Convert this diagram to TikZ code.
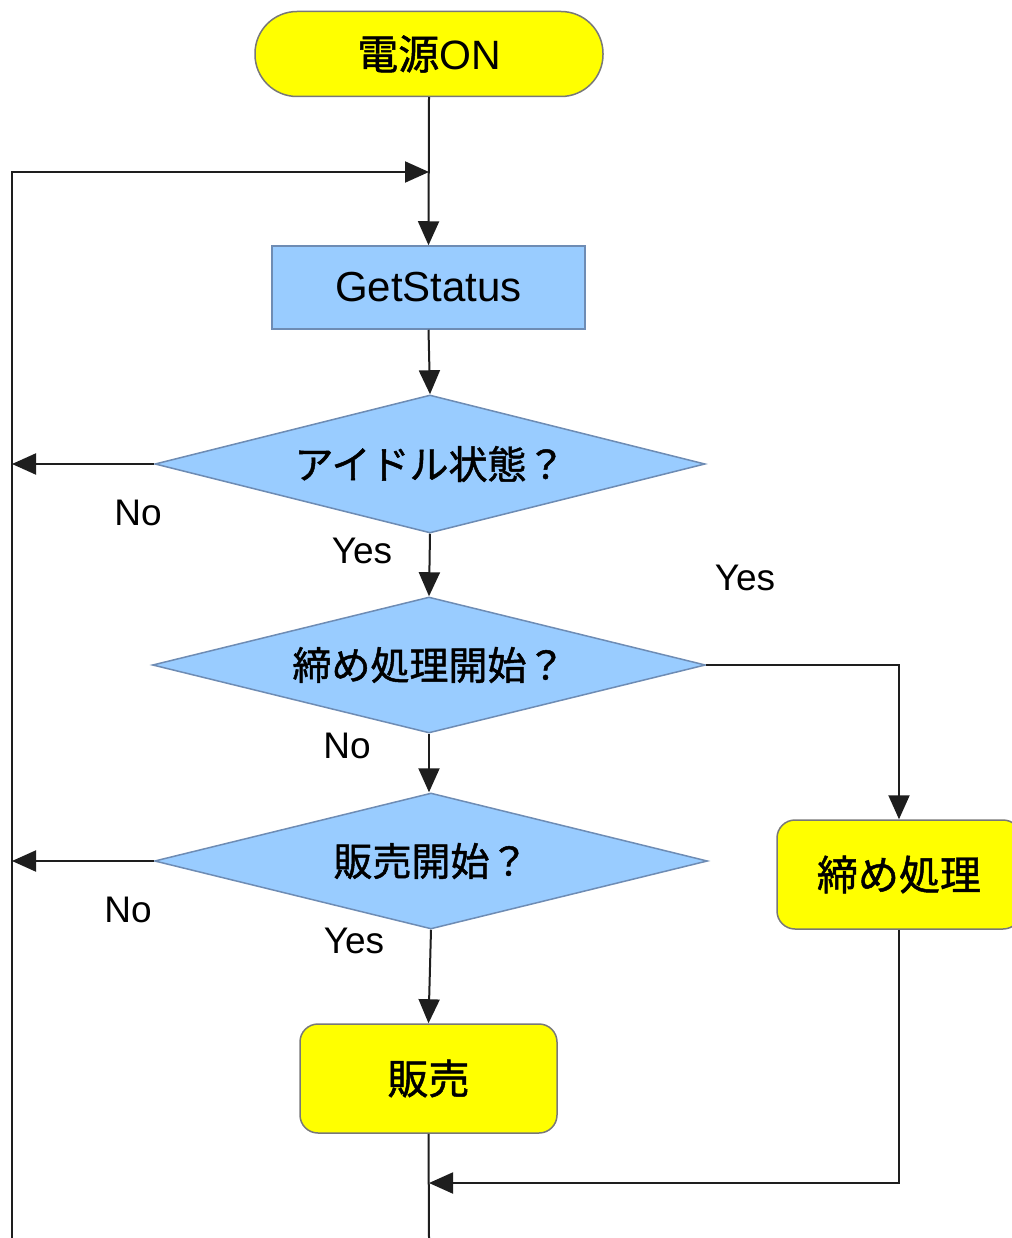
\documentclass[tikz,border=0pt]{standalone}
\usepackage{fontspec}
\setmainfont{Liberation Sans}
\newfontfamily\jp[FakeBold=1.2]{Noto Sans CJK JP}
\usetikzlibrary{shapes.geometric,arrows.meta}
\definecolor{termyellow}{RGB}{255,255,0}
\definecolor{procblue}{RGB}{153,204,255}
\definecolor{edgegray}{RGB}{120,120,120}
\definecolor{blueedge}{RGB}{110,140,180}
\definecolor{linecol}{RGB}{30,30,30}
\begin{document}
\begin{tikzpicture}[x=1pt,y=-1pt,
  yellowbox/.style={draw=edgegray,line width=1.5pt,fill=termyellow,inner sep=0pt,
    font=\fontsize{41}{48}\selectfont\jp},
  bluebox/.style={draw=blueedge,line width=1.5pt,fill=procblue,inner sep=0pt,
    font=\fontsize{42}{50}\selectfont},
  decision/.style={diamond,aspect=4,draw=blueedge,line width=1.5pt,fill=procblue,inner sep=0pt,
    font=\fontsize{39}{46}\selectfont\jp},
  conn/.style={draw=linecol,line width=2pt,-{Triangle[length=24pt,width=21pt]}},
  plain/.style={draw=linecol,line width=2pt},
  lbl/.style={font=\fontsize{37}{44}\selectfont,inner sep=0pt}]
\useasboundingbox (0,0) rectangle (1011,1238);
\fill[white] (0,0) rectangle (1011,1238);

% nodes
\node[yellowbox,rounded corners=42pt,minimum width=348pt,minimum height=85pt] (start) at (429,54) {電源\fontspec{Liberation Sans}ON};
\node[bluebox,minimum width=313pt,minimum height=83pt] (gs) at (428.5,287.5) {GetStatus};
\node[decision,minimum width=550pt,minimum height=138pt] (d1) at (430,464) {アイドル状態？};
\node[decision,minimum width=553pt,minimum height=136pt] (d2) at (429,665) {締め処理開始？};
\node[decision,minimum width=553pt,minimum height=136pt] (d3) at (431,861) {販売開始？};
\node[yellowbox,rounded corners=18pt,minimum width=257pt,minimum height=109pt] (sale) at (428.5,1078.5) {販売};
\node[yellowbox,rounded corners=18pt,minimum width=244pt,minimum height=109pt] (close) at (899,874.5) {締め処理};

% coordinates
\coordinate (m1) at (429,172);
\coordinate (lefttop) at (12,172);
\coordinate (leftbot) at (12,1238);
\coordinate (n1) at (12,464);
\coordinate (n3) at (12,861);
\coordinate (y2) at (899,665);
\coordinate (cb) at (899,1183);
\coordinate (m2) at (429,1183);
\coordinate (salebot) at (429,1238);

% connectors
\draw[conn] (start.south) -- (gs.north);
\draw[conn] (leftbot) -- (lefttop) -- (m1);
\draw[conn] (gs.south) -- (d1.north);
\draw[conn] (d1.west) -- (n1);
\draw[conn] (d1.south) -- (d2.north);
\draw[conn] (d2.east) -- (y2) -- (close.north);
\draw[conn] (d2.south) -- (d3.north -| d2.south);
\draw[conn] (d3.west) -- (n3);
\draw[conn] (d3.south) -- (sale.north);
\draw[conn] (close.south) -- (cb) -- (m2);
\draw[plain] (sale.south) -- (salebot);

% labels
\node[lbl] (l1) at (138,513) {No};
\node[lbl] (l2) at (362,551) {Yes};
\node[lbl] (l3) at (745,578) {Yes};
\node[lbl] (l4) at (347,746) {No};
\node[lbl] (l5) at (128,910) {No};
\node[lbl] (l6) at (354,941) {Yes};
\end{tikzpicture}
\end{document}
